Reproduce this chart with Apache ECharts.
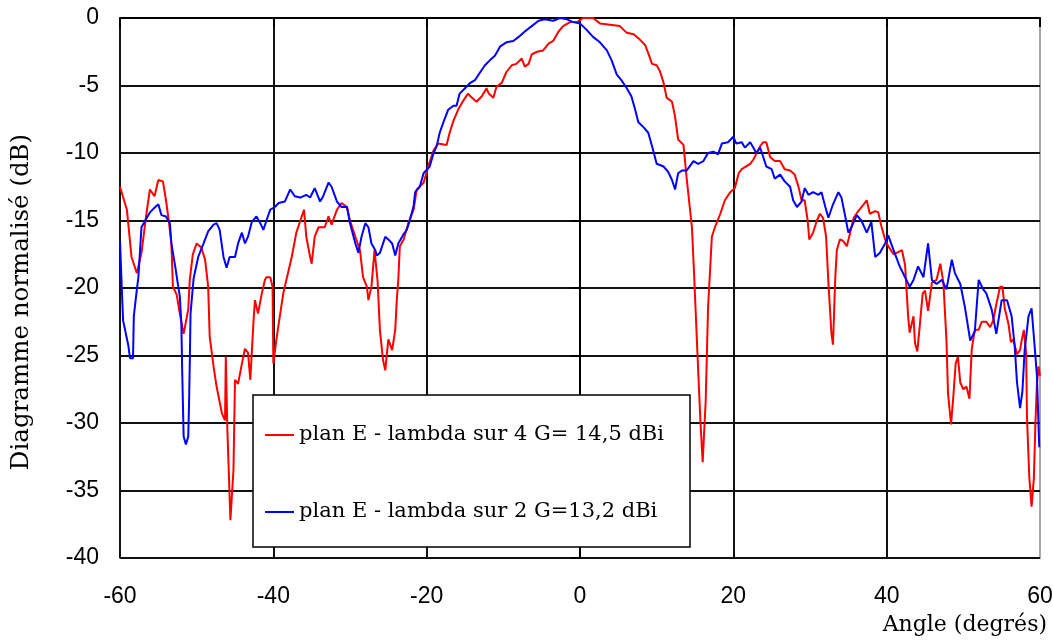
<!DOCTYPE html>
<html>
<head>
<meta charset="utf-8">
<script src="https://cdn.jsdelivr.net/npm/echarts@6/dist/echarts.min.js"></script>
<style>
  html, body { margin: 0; padding: 0; background: #fff; }
  #chart { width: 1053px; height: 641px; }
</style>
</head>
<body>
<div id="chart"></div>
<script>
// plan E - lambda sur 4 (rouge)
var redAngle = [-60.0, -59.1, -58.5, -57.8, -57.2, -56.6, -56.1, -55.5, -55.0, -54.4, -54.0, -53.6, -53.3, -53.1, -52.6, -52.2, -51.7, -51.1, -50.9, -50.5,
  -50.0, -49.4, -48.9, -48.5, -48.3, -47.8, -47.4, -46.7, -46.3, -46.2, -46.0, -45.6, -45.2, -45.0, -44.6, -44.1, -43.7, -43.3, -43.0, -42.6,
  -42.4, -42.0, -41.5, -41.1, -40.9, -40.4, -40.1, -40.0, -39.6, -39.1, -38.7, -38.3, -37.6, -37.0, -36.3, -36.0, -35.7, -35.2, -35.0, -34.6,
  -34.1, -33.3, -32.8, -32.4, -31.7, -31.1, -30.4, -30.0, -29.3, -28.7, -28.3, -27.8, -27.6, -27.2, -26.8, -26.4, -26.1, -25.7, -25.4, -25.0,
  -24.5, -24.1, -23.9, -23.7, -23.5, -23.0, -22.4, -21.7, -21.3, -20.4, -19.8, -19.1, -18.5, -17.4, -17.0, -16.5, -15.9, -15.2, -14.6, -14.3,
  -13.5, -12.8, -12.2, -11.9, -11.3, -10.9, -10.2, -9.6, -8.9, -8.3, -7.6, -7.2, -6.7, -6.3, -5.6, -4.8, -4.1, -3.5, -2.8, -2.2,
  -1.3, -0.4, 0.4, 1.7, 2.6, 3.9, 5.2, 6.1, 7.0, 7.8, 8.5, 8.9, 9.4, 10.0, 10.4, 10.9, 11.3, 12.0, 12.4, 12.8,
  13.5, 13.9, 14.6, 14.9, 15.3, 15.7, 16.0, 16.4, 16.7, 17.2, 17.6, 18.3, 18.9, 19.6, 20.2, 20.7, 21.1, 22.2, 22.6, 23.5,
  23.9, 24.3, 24.8, 25.4, 26.1, 26.7, 27.4, 28.0, 28.5, 28.9, 29.3, 29.7, 29.9, 30.4, 30.9, 31.3, 31.7, 32.1, 32.4, 32.8,
  33.0, 33.3, 33.5, 33.9, 34.3, 34.8, 35.2, 35.7, 36.3, 37.0, 37.4, 37.8, 38.5, 38.9, 39.3, 39.8, 40.2, 40.9, 41.3, 42.0,
  42.4, 42.8, 43.0, 43.5, 43.7, 44.0, 44.3, 44.7, 45.0, 45.4, 45.9, 46.5, 47.0, 47.4, 47.8, 48.0, 48.4, 48.7, 49.0, 49.3,
  49.6, 50.0, 50.4, 50.8, 51.1, 51.5, 52.0, 52.4, 53.0, 53.5, 53.9, 54.3, 54.8, 55.1, 55.4, 55.9, 56.2, 56.5, 57.0, 57.4,
  57.6, 57.9, 58.2, 58.3, 58.6, 58.9, 59.2, 59.4, 59.6, 59.8, 60.0];
var redDb = [-12.5, -14.2, -17.7, -18.9, -17.4, -14.7, -12.7, -13.2, -12.0, -12.1, -13.5, -15.2, -16.7, -19.9, -20.5, -21.9, -23.4, -21.6, -19.4, -17.5,
  -16.7, -17.0, -17.9, -19.9, -23.6, -25.8, -27.3, -29.3, -29.8, -25.1, -30.4, -37.2, -33.5, -26.8, -27.1, -25.6, -24.5, -24.8, -26.8, -22.6,
  -20.9, -21.9, -20.4, -19.4, -19.2, -19.2, -19.9, -25.6, -23.8, -21.9, -20.4, -19.4, -17.7, -15.9, -14.7, -14.2, -16.2, -17.7, -18.2, -16.2,
  -15.5, -15.5, -14.7, -15.3, -14.2, -13.7, -14.0, -15.0, -16.2, -17.2, -19.2, -19.9, -20.9, -19.9, -17.2, -19.5, -23.1, -25.3, -26.1, -23.8,
  -24.6, -23.1, -20.9, -19.4, -16.9, -16.4, -15.2, -14.2, -12.7, -12.2, -11.0, -9.8, -9.3, -9.4, -8.5, -7.6, -6.8, -6.1, -5.6, -5.8,
  -6.2, -5.8, -5.2, -5.6, -5.9, -5.1, -4.8, -4.0, -3.5, -3.4, -3.0, -3.6, -3.4, -2.7, -2.5, -2.4, -1.9, -1.7, -1.0, -0.6,
  -0.3, -0.3, 0, 0, -0.4, -0.5, -0.6, -1.1, -1.2, -1.6, -2.0, -2.6, -3.4, -3.5, -3.9, -4.8, -5.9, -6.2, -7.3, -9.0,
  -9.4, -11.8, -15.5, -19.2, -24.6, -29.8, -32.9, -28.3, -21.5, -16.2, -15.5, -14.5, -13.5, -12.9, -12.6, -11.5, -11.2, -10.8, -10.5, -9.5,
  -9.2, -9.2, -10.3, -10.6, -10.6, -11.2, -11.3, -11.6, -12.5, -13.5, -13.5, -15.0, -16.4, -15.9, -15.0, -14.5, -14.8, -16.2, -19.6, -23.4,
  -24.2, -19.2, -17.2, -16.4, -16.5, -16.9, -16.0, -14.8, -14.3, -13.8, -13.5, -14.5, -14.3, -14.4, -15.4, -16.4, -16.9, -17.5, -17.4, -17.2,
  -18.3, -22.1, -23.3, -22.1, -24.1, -24.7, -22.9, -20.4, -20.2, -21.7, -19.6, -19.4, -18.2, -19.6, -23.9, -27.8, -30.1, -28.0, -25.6, -25.1,
  -27.0, -27.5, -27.3, -28.2, -24.5, -23.1, -23.1, -22.5, -22.5, -22.9, -22.4, -21.2, -19.9, -19.9, -21.5, -22.7, -24.0, -23.8, -24.9, -24.6,
  -23.9, -23.1, -24.9, -29.5, -34.0, -36.2, -34.1, -30.1, -27.1, -25.8, -26.5];

// plan E - lambda sur 2 (bleu)
var blueAngle = [-60.0, -59.8, -59.6, -58.9, -58.7, -58.3, -58.2, -57.8, -57.6, -57.2, -56.7, -56.1, -55.4, -55.0, -54.6, -54.0, -53.5, -53.3, -52.8, -52.4,
  -52.2, -52.0, -51.9, -51.7, -51.4, -51.1, -51.0, -50.9, -50.8, -50.4, -49.8, -49.1, -48.5, -47.8, -47.4, -47.0, -46.5, -46.1, -45.7, -45.0,
  -44.6, -44.1, -43.7, -43.3, -42.8, -42.2, -41.7, -41.3, -40.9, -40.4, -39.8, -39.3, -38.5, -37.8, -37.2, -36.5, -35.7, -35.2, -34.6, -33.9,
  -33.5, -32.8, -32.4, -31.7, -31.1, -30.4, -30.0, -29.3, -28.9, -28.5, -28.0, -27.6, -27.2, -26.7, -26.5, -26.1, -25.4, -25.0, -24.5, -24.1,
  -23.7, -23.0, -22.6, -22.2, -21.7, -21.5, -20.9, -20.4, -19.6, -19.1, -18.7, -18.3, -17.8, -17.2, -16.5, -16.1, -15.7, -15.0, -14.3, -13.7,
  -13.0, -12.4, -11.7, -11.1, -10.4, -9.6, -8.7, -8.0, -7.2, -6.3, -5.4, -4.6, -3.5, -2.6, -1.7, -0.9, 0.0, 0.9, 1.7, 2.6,
  3.5, 4.1, 4.8, 5.4, 6.1, 6.7, 7.2, 7.6, 8.3, 8.9, 9.4, 10.0, 10.9, 11.5, 12.0, 12.4, 12.8, 13.3, 13.9, 14.8,
  15.4, 16.1, 16.7, 17.4, 18.0, 18.5, 19.3, 20.0, 20.4, 21.1, 21.5, 22.2, 22.6, 23.0, 23.5, 23.9, 24.3, 25.0, 25.4, 26.1,
  26.7, 27.4, 27.8, 28.3, 28.9, 29.3, 29.8, 30.4, 31.1, 31.5, 32.0, 32.4, 33.0, 33.7, 34.1, 34.6, 35.0, 35.4, 36.1, 36.7,
  37.4, 38.0, 38.5, 39.1, 39.8, 40.2, 40.9, 41.7, 42.4, 43.0, 43.5, 44.1, 44.8, 45.4, 45.9, 46.5, 47.2, 47.8, 48.5, 48.9,
  49.6, 50.2, 50.9, 51.5, 52.0, 52.6, 53.0, 53.7, 54.3, 55.0, 55.7, 56.3, 56.7, 57.0, 57.4, 57.7, 58.0, 58.5, 58.9, 59.2,
  59.6, 59.8, 59.9];
var blueDb = [-16.5, -19.5, -22.4, -24.3, -25.2, -25.2, -22.1, -20.1, -19.2, -15.5, -15.0, -14.4, -14.0, -13.8, -14.6, -14.7, -15.2, -16.7, -18.4, -19.9,
  -20.6, -22.6, -25.8, -31.0, -31.6, -31.0, -28.8, -25.6, -21.9, -19.3, -17.7, -16.7, -15.8, -15.3, -15.2, -15.7, -17.7, -18.5, -17.7, -17.7,
  -16.7, -15.9, -16.7, -16.2, -15.1, -14.7, -15.2, -15.7, -15.0, -14.2, -14.0, -13.7, -13.6, -12.7, -13.2, -13.3, -13.1, -13.3, -12.6, -13.6,
  -13.2, -12.2, -12.5, -13.6, -14.0, -14.0, -15.2, -16.7, -17.4, -16.2, -15.2, -15.5, -16.7, -17.2, -17.6, -17.4, -16.2, -16.4, -16.7, -17.6,
  -16.7, -16.0, -15.7, -15.0, -13.9, -12.9, -12.5, -11.5, -11.0, -10.0, -9.5, -8.5, -7.7, -6.8, -6.5, -6.5, -5.6, -5.2, -4.8, -4.6,
  -4.0, -3.5, -3.1, -2.8, -2.1, -1.8, -1.7, -1.4, -1.0, -0.6, -0.2, -0.1, -0.2, 0, -0.1, -0.3, -0.4, -0.9, -1.4, -1.8,
  -2.4, -3.1, -4.2, -4.6, -5.2, -5.8, -6.8, -7.7, -8.1, -8.5, -9.5, -10.8, -11.0, -11.4, -12.0, -12.7, -11.5, -11.3, -11.3, -10.6,
  -10.8, -10.6, -10.0, -9.9, -10.1, -9.3, -9.2, -8.8, -9.3, -9.2, -9.6, -9.2, -9.6, -10.0, -9.6, -10.3, -11.0, -11.2, -11.9, -11.6,
  -12.1, -12.5, -13.5, -14.0, -13.6, -12.6, -13.1, -12.9, -13.1, -12.9, -14.0, -14.8, -13.8, -12.9, -13.3, -14.7, -15.9, -15.5, -14.6, -15.0,
  -15.9, -15.1, -17.7, -17.4, -16.7, -16.1, -17.2, -18.4, -19.2, -19.9, -19.4, -18.4, -19.2, -16.7, -19.4, -19.7, -19.4, -20.1, -17.9, -18.9,
  -19.7, -21.4, -23.9, -23.2, -19.4, -20.1, -20.4, -21.6, -23.4, -20.9, -20.9, -22.1, -24.3, -27.0, -28.9, -27.7, -24.6, -22.1, -21.5, -23.6,
  -26.5, -30.0, -31.8];

var seriesNames = ['plan E - lambda sur 4 G= 14,5 dBi', 'plan E - lambda sur 2 G=13,2 dBi'];
var xTicks = { min: -60, max: 60, step: 20 };
var yTicks = { min: -40, max: 0, step: 5 };

function pairs(xs, ys) {
  return xs.map(function (x, i) { return [x, ys[i]]; });
}

var serifFont = '"DejaVu Serif", "Liberation Serif", serif';
var labelFont = '"Liberation Sans", Arial, sans-serif';

var chart = echarts.init(document.getElementById('chart'));
chart.setOption({
  animation: false,
  backgroundColor: '#fff',
  grid: {
    left: 120,
    right: 13,
    top: 18,
    bottom: 83,
    outerBoundsMode: 'none',
    containLabel: false,
    show: true,
    borderColor: '#a8a8a8',
    borderWidth: 2
  },
  legend: {
    orient: 'vertical',
    left: 253,
    top: 395,
    backgroundColor: '#fff',
    borderColor: '#000',
    borderWidth: 1.5,
    borderRadius: 0,
    padding: [29, 26, 24, 12],
    itemGap: 55,
    itemWidth: 29,
    itemHeight: 2,
    icon: 'rect',
    textStyle: { fontFamily: serifFont, fontSize: 21, color: '#000', lineHeight: 22 },
    data: seriesNames
  },
  graphic: [{
    type: 'text',
    right: 6,
    top: 614,
    style: { text: 'Angle (degrés)', font: '22px ' + serifFont, fill: '#000' }
  }],
  xAxis: {
    type: 'value',
    min: xTicks.min,
    max: xTicks.max,
    interval: xTicks.step,
    axisLine: { lineStyle: { color: '#000', width: 2 } },
    axisTick: { show: true, inside: false, length: 9, lineStyle: { color: '#000', width: 2 } },
    axisLabel: { margin: 27, fontFamily: labelFont, fontSize: 23, color: '#000' },
    splitLine: { show: true, showMaxLine: false, lineStyle: { color: '#111', width: 2 } }
  },
  yAxis: {
    type: 'value',
    min: yTicks.min,
    max: yTicks.max,
    interval: yTicks.step,
    name: 'Diagramme normalisé (dB)',
    nameLocation: 'middle',
    nameRotate: 90,
    nameGap: 86,
    nameTextStyle: { fontFamily: serifFont, fontSize: 24.5, color: '#000', padding: [0, 28, 0, 0] },
    axisLine: { lineStyle: { color: '#000', width: 2 } },
    axisTick: { show: true, inside: false, length: 9, lineStyle: { color: '#000', width: 2 } },
    axisLabel: { margin: 21, fontFamily: labelFont, fontSize: 23, color: '#000' },
    splitLine: { show: true, showMaxLine: false, lineStyle: { color: '#111', width: 2 } }
  },
  series: [
    {
      name: seriesNames[0],
      type: 'line',
      data: pairs(redAngle, redDb),
      showSymbol: false,
      symbol: 'none',
      lineStyle: { color: '#ff0000', width: 2 },
      itemStyle: { color: '#ff0000' },
      z: 3
    },
    {
      name: seriesNames[1],
      type: 'line',
      data: pairs(blueAngle, blueDb),
      showSymbol: false,
      symbol: 'none',
      lineStyle: { color: '#0000ff', width: 2 },
      itemStyle: { color: '#0000ff' },
      z: 4
    }
  ]
});
</script>
</body>
</html>
